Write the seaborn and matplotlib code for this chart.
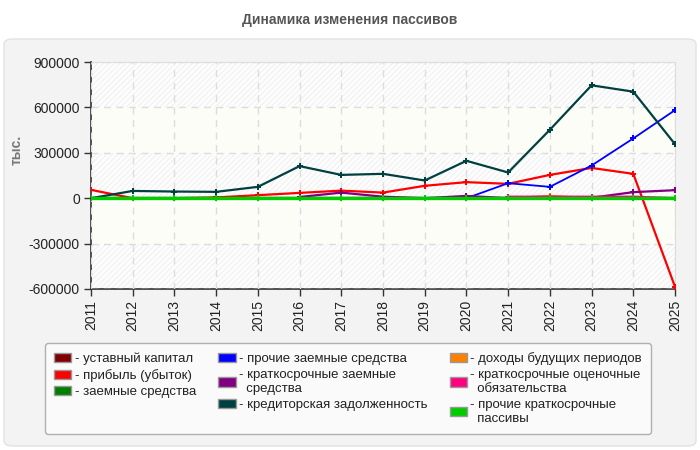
import numpy as np
import pandas as pd
import matplotlib
matplotlib.use('Agg')
import matplotlib.pyplot as plt
from matplotlib.patches import FancyBboxPatch, Patch
import seaborn as sns

# --- data (тыс.) ---
years = list(range(2011, 2026))
nan = np.nan

charter_capital = [0] * 15
profit = [55000, 0, 0, 5000, 20000, 35000, 50000, 37000, 82000, 106000, 95000, 154000, 200000, 161000, -585000]
borrowed = [0] * 15
other_borrowed = [nan] * 9 + [0, 99000, 75000, 216000, 395000, 582000]
short_borrowed = [nan] * 5 + [8000, 37000, 10000, 0, 15000, 0, 0, 3000, 40000, 53000]
payables = [0, 48000, 44000, 42000, 75000, 212000, 154000, 161000, 117000, 247000, 170000, 452000, 746000, 704000, 357000]
deferred_income = [nan] * 10 + [0, 15000, 0, nan, nan]
estimated_liab = [nan] * 10 + [10000, 10000, 10000, 10000, 0]
other_short = [0] * 15

series = [
    ("- уставный капитал", charter_capital, "#800000"),
    ("- прибыль (убыток)", profit, "#ff0000"),
    ("- заемные средства", borrowed, "#008000"),
    ("- прочие заемные средства", other_borrowed, "#0000ff"),
    ("- краткосрочные заемные\n  средства", short_borrowed, "#800080"),
    ("- кредиторская задолженность", payables, "#004040"),
    ("- доходы будущих периодов", deferred_income, "#ff8000"),
    ("- краткосрочные оценочные\n  обязательства", estimated_liab, "#ff0080"),
    ("- прочие краткосрочные\n  пассивы", other_short, "#00cc00"),
]
widths = {"#00cc00": 2.4, "#0000ff": 1.3}

sns.set_style("white")
plt.rcParams['font.family'] = ['Liberation Sans', 'DejaVu Sans']
plt.rcParams['hatch.linewidth'] = 0.7

fig = plt.figure(figsize=(7, 4.5), dpi=100)
fig.patch.set_facecolor('white')

# outer rounded panel
panel = FancyBboxPatch((4 / 700, 4 / 450), 692 / 700, 407 / 450,
                       boxstyle="round,pad=0,rounding_size=0.012",
                       transform=fig.transFigure, facecolor='#f3f3f3',
                       edgecolor='#e2e2e2', linewidth=1, zorder=-5)
fig.patches.append(panel)

fig.text(0.5, 430 / 450, "Динамика изменения пассивов", ha='center', va='center',
         fontsize=10, fontweight='bold', color='#555555')

ax = fig.add_axes([91 / 700, 1 - 289 / 450, (675 - 91) / 700, (289 - 62) / 450])
ax.set_zorder(2)
ax.set_facecolor('#fcfdf7')

# alternating hatched bands
for lo, hi in [(600000, 900000), (0, 300000), (-600000, -300000)]:
    ax.axhspan(lo, hi, facecolor='#fdfdfd', edgecolor='#f0f0f0', hatch='//////',
               linewidth=0, zorder=0)

for label, vals, color in series:
    df = pd.DataFrame({'year': years, 'value': vals}).dropna()
    sns.lineplot(data=df, x='year', y='value', ax=ax, color=color,
                 linewidth=widths.get(color, 1.6),
                 marker='P', markersize=4.5, markeredgewidth=0, zorder=3)

ax.set_xlim(2011, 2025)
ax.set_ylim(-600000, 900000)
ax.set_yticks(range(-600000, 900001, 300000))
ax.set_yticklabels([str(v) for v in range(-600000, 900001, 300000)], fontsize=10, color='#222222')
ax.set_xticks(years)
ax.set_xticklabels([str(y) for y in years], rotation=90, fontsize=10, color='#222222')
ax.set_xlabel('')
ax.set_ylabel('')
ax.grid(True, color='#dddddd', linestyle=(0, (5, 4)), linewidth=1)
ax.set_axisbelow(False)
for gl in ax.get_xgridlines() + ax.get_ygridlines():
    gl.set_zorder(1)
ax.tick_params(axis='both', direction='out', length=5, width=1, color='#333333', pad=3,
               left=True, bottom=True)
for side in ['top', 'right']:
    ax.spines[side].set_color('#dddddd')
for side in ['left', 'bottom']:
    ax.spines[side].set_color('#333333')
    ax.spines[side].set_linewidth(1.2)

fig.text(17 / 700, 1 - 150 / 450, "тыс.", rotation=90, ha='center', va='center',
         fontsize=10, fontweight='bold', color='#777777')

handles = [Patch(facecolor=c, edgecolor='#999999', linewidth=1) for _, _, c in series]
labels = [l for l, _, _ in series]
leg = fig.legend(handles, labels, ncol=3, loc='upper left',
                 bbox_to_anchor=(45 / 700, 1 - 343 / 450), borderaxespad=0,
                 fontsize=9.5, frameon=True, fancybox=True, framealpha=1,
                 facecolor='#fafafa', edgecolor='#b0b0b0',
                 handlelength=1.3, handleheight=0.7, handletextpad=0.25,
                 columnspacing=1.7, labelspacing=0.3, borderpad=0.7)
leg.get_frame().set_linewidth(1)
for t in leg.get_texts():
    t.set_color('#222222')

fig.savefig('out.png', dpi=100, facecolor=fig.get_facecolor())
